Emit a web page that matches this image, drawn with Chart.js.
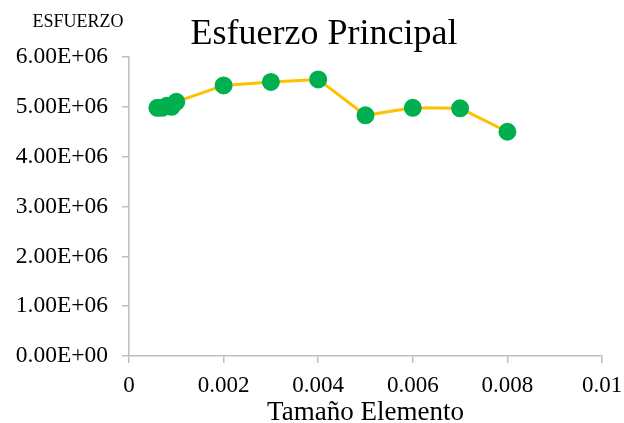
<!DOCTYPE html>
<html>
<head>
<meta charset="utf-8">
<script src="https://cdn.jsdelivr.net/npm/chart.js@4"></script>
<style>
  html, body { margin: 0; padding: 0; background: #fff; }
  #wrap { width: 624px; height: 423px; }
</style>
</head>
<body>
<div id="wrap"><canvas id="stressChart" width="624" height="423"></canvas></div>
<script>
// element size (m) and principal stress
const elementSize = [0.0006, 0.0007, 0.0008, 0.0009, 0.001, 0.002, 0.003, 0.004, 0.005, 0.006, 0.007, 0.008];
const stress = [4.98e6, 4.98e6, 5.02e6, 5.0e6, 5.1e6, 5.43e6, 5.5e6, 5.55e6, 4.83e6, 4.98e6, 4.97e6, 4.5e6];
const xTicks = [0, 0.002, 0.004, 0.006, 0.008, 0.01];

const chartTitle = "Esfuerzo Principal";
const yTitle = "ESFUERZO";
const xTitle = "Tamaño Elemento";

const serif = "'Liberation Serif', 'Times New Roman', serif";

// draw the main title and the small y label above the axis
const titlesPlugin = {
  id: "titles",
  afterDraw(chart) {
    const ctx = chart.ctx;
    ctx.save();
    ctx.fillStyle = "#000";
    ctx.textAlign = "center";
    ctx.textBaseline = "alphabetic";
    ctx.font = "36px " + serif;
    ctx.fillText(chartTitle, 324, 44);
    ctx.font = "18px " + serif;
    ctx.fillText(yTitle, 78, 27);
    ctx.restore();
  },
};

const points = elementSize.map((x, i) => ({ x: x, y: stress[i] }));

new Chart(document.getElementById("stressChart").getContext("2d"), {
  type: "scatter",
  data: {
    datasets: [
      {
        data: points,
        showLine: true,
        borderColor: "#FFC000",
        borderWidth: 3,
        backgroundColor: "#00B050",
        pointBackgroundColor: "#00B050",
        pointBorderColor: "#00B050",
        pointRadius: 7.5,
        pointHoverRadius: 7.5,
        tension: 0,
      },
    ],
  },
  options: {
    responsive: false,
    animation: false,
    layout: { padding: { top: 57, right: 22, left: 0, bottom: 0 } },
    plugins: {
      legend: { display: false },
      tooltip: { enabled: false },
    },
    scales: {
      x: {
        type: "linear",
        min: 0,
        max: 0.01,
        afterBuildTicks(axis) {
          axis.ticks = xTicks.map((v) => ({ value: v }));
        },
        afterFit(axis) {
          axis.height = 67;
          axis.paddingRight = 0;
        },
        grid: {
          display: true,
          drawOnChartArea: false,
          drawTicks: true,
          tickLength: 7,
          color: "#BFBFBF",
          lineWidth: 1.5,
        },
        border: { display: true, color: "#BFBFBF", width: 1.5 },
        ticks: {
          color: "#000",
          font: { family: serif, size: 23 },
          padding: 9,
          maxRotation: 0,
          callback: (v) => (v === 0 ? "0" : String(+v.toFixed(3))),
        },
        title: {
          display: true,
          text: xTitle,
          color: "#000",
          font: { family: serif, size: 27, lineHeight: 0.75 },
          padding: { top: 0, bottom: 0 },
        },
      },
      y: {
        min: 0,
        max: 6e6,
        afterFit(axis) {
          axis.width = 129;
        },
        grid: {
          display: true,
          drawOnChartArea: false,
          drawTicks: true,
          tickLength: 7,
          color: "#BFBFBF",
          lineWidth: 1.5,
        },
        border: { display: true, color: "#BFBFBF", width: 1.5 },
        ticks: {
          stepSize: 1e6,
          color: "#000",
          font: { family: serif, size: 23.5 },
          padding: 14,
          callback: (v) => {
            const s = v.toExponential(2).toUpperCase();
            return s.replace(/E\+(\d)$/, "E+0$1");
          },
        },
      },
    },
  },
  plugins: [titlesPlugin],
});
</script>
</body>
</html>
